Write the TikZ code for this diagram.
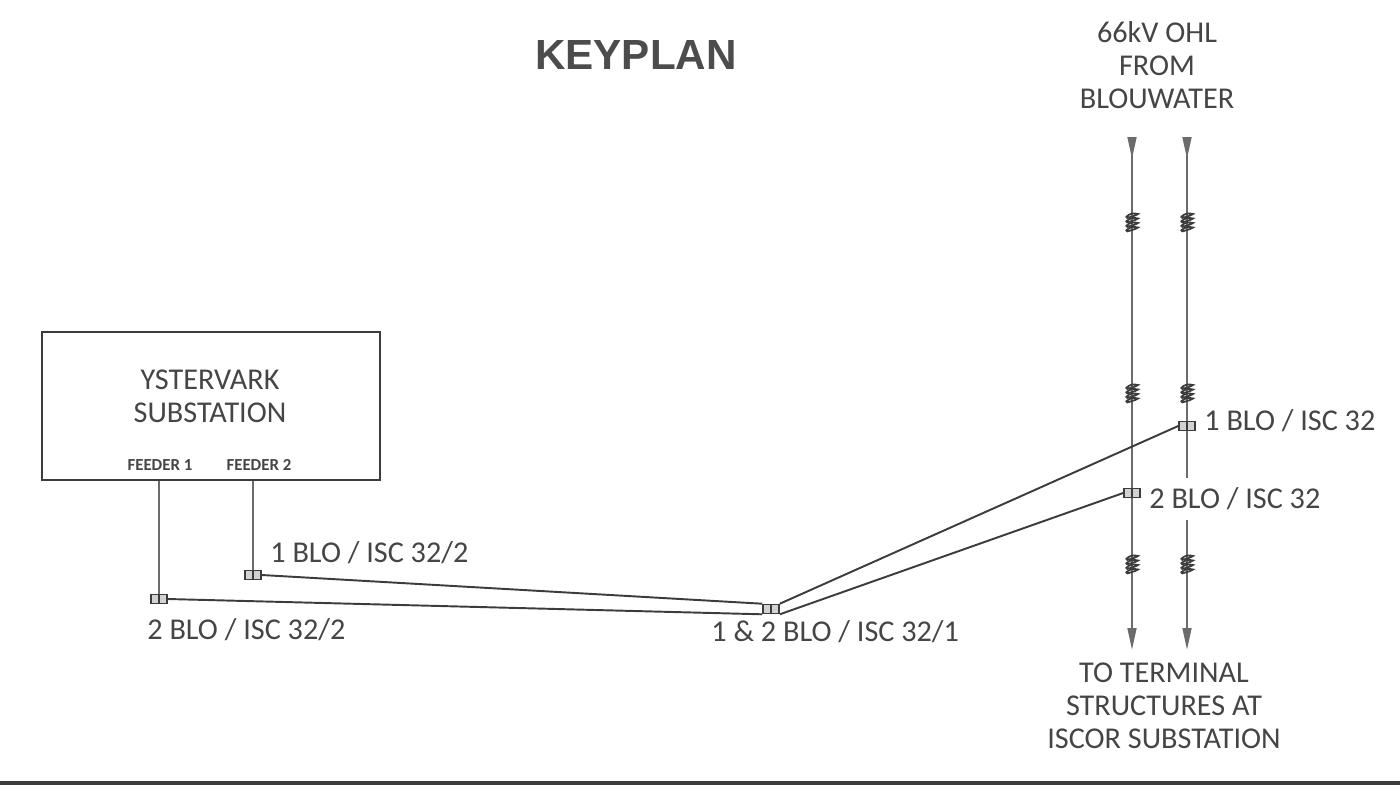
\documentclass[tikz,border=0pt]{standalone}
\usepackage{fontspec}
\setmainfont{Carlito}
\newfontfamily\titlefont{Liberation Sans}
\usetikzlibrary{arrows.meta, positioning}
\definecolor{inkgray}{HTML}{454545}
\definecolor{linegray}{HTML}{3C3C3C}

\begin{document}
\begin{tikzpicture}[
        x=0.02cm, y=-0.02cm,
        every node/.style={text=inkgray, font=\fontsize{17.2}{18.8}\selectfont},
        label/.style={align=center, inner sep=0pt},
        smalllabel/.style={inner sep=0pt, font=\fontsize{9.6}{11}\selectfont\bfseries},
        substation/.style={draw=linegray, line width=1.1pt, minimum width=338*0.02cm, minimum height=148*0.02cm},
        joint/.style={draw=linegray, fill=gray!35, line width=.9pt, rectangle, inner sep=0pt,
            minimum width=16*0.02cm, minimum height=9*0.02cm,
            path picture={\draw[linegray, line width=.8pt] (path picture bounding box.south) -- (path picture bounding box.north);}},
        cable/.style={draw=linegray, line width=1.1pt},
        ohl/.style={draw=gray!85!black, line width=1.3pt},
        coil/.pic={
            \foreach \dy in {-7,-2.5,2,6.5} {
                \draw[linegray, line width=1pt, line cap=round] (-6,\dy+2) .. controls (-2,\dy-2) and (2,\dy-2) .. (6,\dy-1) .. controls (3,\dy+1) and (-2,\dy+2) .. (-5,\dy+3);
            }
        }
    ]
        \useasboundingbox (0,0) rectangle (1400,792);

        \node[label, font=\fontsize{24}{28}\selectfont\titlefont\bfseries, text=gray!60!black] (title) at (636,55) {KEYPLAN};
        \node[label] (source) at (1157,65) {66kV OHL\\FROM\\BLOUWATER};
        \node[label] (terminal) at (1164,706) {TO TERMINAL\\STRUCTURES AT\\ISCOR SUBSTATION};

        % substation
        \node[substation] (yster) at (211,406) {};
        \node[label] (ysterlabel) at (210,396) {YSTERVARK\\SUBSTATION};
        \node[smalllabel] (feederA) at (160,465) {FEEDER 1};
        \node[smalllabel] (feederB) at (259,465) {FEEDER 2};

        % joints
        \foreach \name/\x/\y in {jointA/159/599, jointB/253/575, jointC/771/609, jointD/1132/493, jointE/1187/426} {
            \coordinate (\name) at (\x,\y);
        }

        % overhead lines
        \coordinate (lineAtop) at (1132,137);
        \coordinate (lineAbot) at (1132,650);
        \coordinate (lineBtop) at (1187,137);
        \coordinate (lineBmid) at (1187,478);
        \coordinate (lineBres) at (1187,520);
        \coordinate (lineBbot) at (1187,650);
        \draw[ohl, {Triangle[reversed, length=12.5pt, width=5pt]}-{Triangle[length=12.5pt, width=5pt]}] (lineAtop) -- (lineAbot);
        \draw[ohl, {Triangle[reversed, length=12.5pt, width=5pt]}-] (lineBtop) -- (lineBmid);
        \draw[ohl, -{Triangle[length=12.5pt, width=5pt]}] (lineBres) -- (lineBbot);

        \foreach \x in {1132,1187} {
            \foreach \y in {222,393,564} {
                \pic at (\x,\y) {coil};
            }
        }

        \foreach \name in {jointA, jointB, jointC, jointD, jointE} {
            \node[joint] (\name n) at (\name) {};
        }

        % cables
        \draw[ohl] (jointAn |- yster.south) -- (jointAn.north);
        \draw[ohl] (jointBn |- yster.south) -- (jointBn.north);
        \draw[cable] (jointAn.east) -- (jointCn.south west);
        \draw[cable] (jointBn.east) -- (jointCn.north west);
        \draw[cable] (jointCn.north east) -- (jointEn.west);
        \draw[cable] (jointCn.south east) -- (jointDn.west);

        \node[label, anchor=west] (cableB) at (270,553) {1 BLO / ISC 32/2};
        \node[label, anchor=west] (cableA) at (147,630) {2 BLO / ISC 32/2};
        \node[label, anchor=west] (cableC) at (711,632) {1 \& 2 BLO / ISC 32/1};
        \node[label, anchor=west] (cableE) at (1204,421) {1 BLO / ISC 32};
        \node[label, anchor=west] (cableD) at (1149,499) {2 BLO / ISC 32};

        % bottom rule
        \coordinate (ruleL) at (0,783);
        \coordinate (ruleR) at (1400,783);
        \draw[draw=linegray, line width=2.8pt] (ruleL) -- (ruleR);
    \end{tikzpicture}
\end{document}
